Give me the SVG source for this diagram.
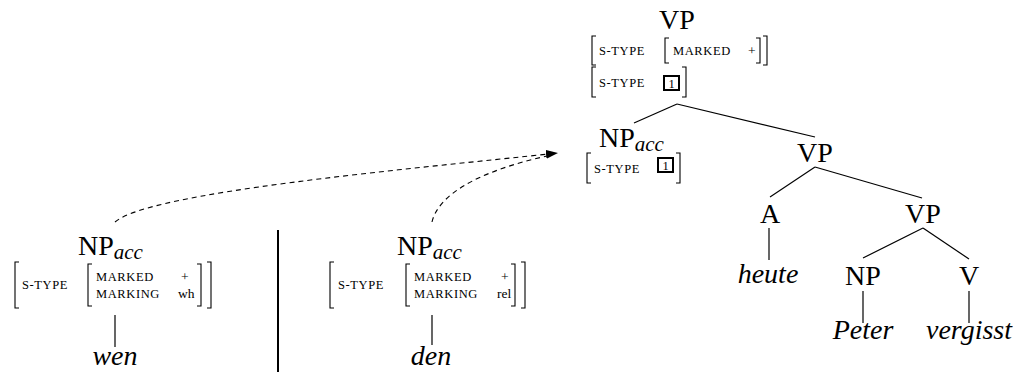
<svg xmlns="http://www.w3.org/2000/svg" width="1016" height="373" viewBox="0 0 1016 373">
<style>
.lab{font-family:"Liberation Serif","Times New Roman",serif;font-size:28px;fill:#000}
.it{font-family:"Liberation Serif","Times New Roman",serif;font-size:28px;font-style:italic;fill:#000}
.sub{font-style:italic;font-size:21px}
.sc{font-family:"Liberation Serif","Times New Roman",serif;font-size:12.5px;letter-spacing:0.6px;fill:#000}
.val{font-family:"Liberation Serif","Times New Roman",serif;font-size:13.5px;fill:#000}
.box{font-family:"Liberation Serif","Times New Roman",serif;font-size:12.5px;fill:#000;text-anchor:middle}
.br{fill:none;stroke:#000;stroke-width:1.1}
.bx{fill:none;stroke:#000;stroke-width:2}
.edge{fill:none;stroke:#000;stroke-width:1.2}
.dash{fill:none;stroke:#000;stroke-width:1.1;stroke-dasharray:5 4}
.mid{text-anchor:middle}
</style>
<defs>
<marker id="ah" markerWidth="13" markerHeight="10" refX="12" refY="4.5" orient="auto" markerUnits="userSpaceOnUse">
<path d="M0,0 L12,4.5 L0,9 Z" fill="#000"/>
</marker>
</defs>

<g id="connectors">
<line class="edge" x1="677" y1="104" x2="634" y2="123"/>
<line class="edge" x1="677" y1="104" x2="815" y2="137"/>
<line class="edge" x1="815" y1="167" x2="770" y2="197"/>
<line class="edge" x1="815" y1="167" x2="922" y2="198"/>
<line class="edge" x1="769" y1="228" x2="769" y2="260"/>
<line class="edge" x1="923" y1="228" x2="863" y2="258"/>
<line class="edge" x1="923" y1="228" x2="969" y2="259"/>
<line class="edge" x1="863" y1="291" x2="863" y2="323"/>
<line class="edge" x1="969" y1="291" x2="969" y2="323"/>
<line class="edge" x1="115" y1="315" x2="115" y2="347"/>
<line class="edge" x1="432" y1="315" x2="432" y2="345"/>
<path class="dash" d="M115,222 C150,192 400,170 558,153" marker-end="url(#ah)"/>
<path class="dash" d="M432,222 C438,196 475,172 547,156"/>
</g>

<line id="separator" x1="278" y1="230" x2="278" y2="372" stroke="#000" stroke-width="2"/>

<g id="vp-top">
<text class="lab mid" x="677" y="29">VP</text>
<path class="br" d="M596,36 H592 V65 H596"/>
<text class="sc" x="599" y="55">S-TYPE</text>
<path class="br" d="M669,38 H665 V63 H669"/>
<text class="sc" x="673" y="55">MARKED</text>
<text class="val" x="748" y="55">+</text>
<path class="br" d="M756,38 H760 V63 H756"/>
<path class="br" d="M763,36 H767 V65 H763"/>
<path class="br" d="M596,67 H592 V97 H596"/>
<text class="sc" x="599" y="87">S-TYPE</text>
<rect class="bx" x="664" y="76" width="15" height="14"/>
<text class="box" x="671.5" y="87.5">1</text>
<path class="br" d="M682,67 H686 V97 H682"/>
</g>

<g id="np-acc-mid">
<text class="lab" x="599" y="147">NP<tspan class="sub" dy="4">acc</tspan></text>
<path class="br" d="M591,153 H587 V183 H591"/>
<text class="sc" x="594" y="173">S-TYPE</text>
<rect class="bx" x="658" y="158" width="15" height="14"/>
<text class="box" x="665.5" y="169.5">1</text>
<path class="br" d="M676,153 H680 V183 H676"/>
</g>

<g id="vp2">
<text class="lab mid" x="815" y="162">VP</text>
</g>
<g id="a">
<text class="lab mid" x="770" y="223">A</text>
</g>
<g id="vp3">
<text class="lab mid" x="923" y="223">VP</text>
</g>
<g id="heute">
<text class="it mid" x="768" y="283">heute</text>
</g>
<g id="np">
<text class="lab mid" x="863" y="285">NP</text>
</g>
<g id="v">
<text class="lab mid" x="969" y="285">V</text>
</g>
<g id="peter">
<text class="it mid" x="863" y="339">Peter</text>
</g>
<g id="vergisst">
<text class="it mid" x="969" y="339">vergisst</text>
</g>

<g id="np-wen">
<text class="lab" x="78" y="255">NP<tspan class="sub" dy="4">acc</tspan></text>
<path class="br" d="M19,262 H15 V308 H19"/>
<text class="sc" x="22" y="289">S-TYPE</text>
<path class="br" d="M92,264 H88 V306 H92"/>
<text class="sc" x="96" y="281">MARKED</text>
<text class="sc" x="96" y="298">MARKING</text>
<text class="val" x="181" y="281">+</text>
<text class="val" x="178" y="298">wh</text>
<path class="br" d="M197,264 H201 V306 H197"/>
<path class="br" d="M207,262 H211 V308 H207"/>
</g>
<g id="wen">
<text class="it mid" x="115" y="365">wen</text>
</g>

<g id="np-den">
<text class="lab" x="397" y="255">NP<tspan class="sub" dy="4">acc</tspan></text>
<path class="br" d="M334,262 H330 V308 H334"/>
<text class="sc" x="338" y="289">S-TYPE</text>
<path class="br" d="M410,264 H406 V306 H410"/>
<text class="sc" x="414" y="281">MARKED</text>
<text class="sc" x="414" y="298">MARKING</text>
<text class="val" x="501" y="281">+</text>
<text class="val" x="497" y="298">rel</text>
<path class="br" d="M511,264 H515 V306 H511"/>
<path class="br" d="M521,262 H525 V308 H521"/>
</g>
<g id="den">
<text class="it mid" x="431" y="365">den</text>
</g>
</svg>
